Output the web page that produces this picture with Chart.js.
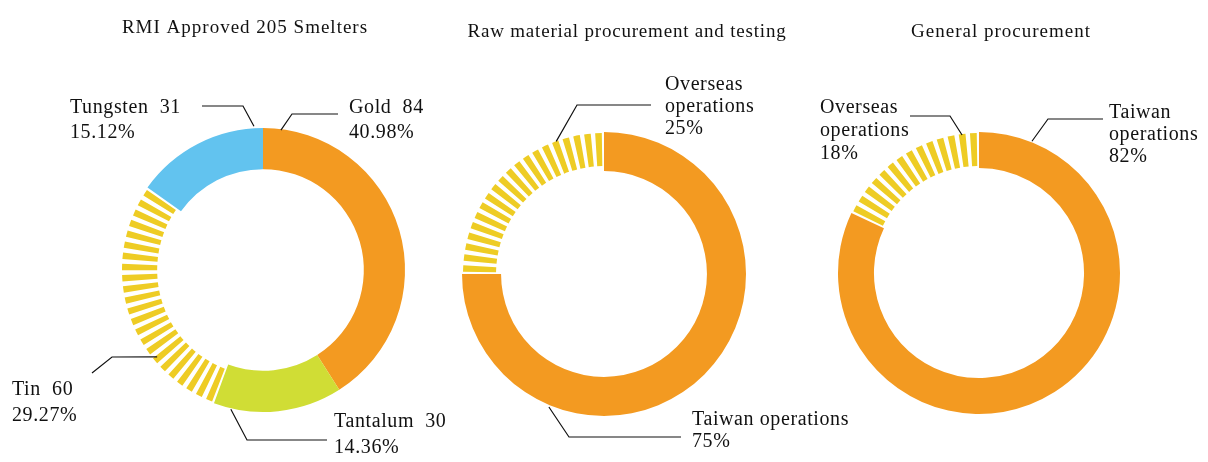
<!DOCTYPE html>
<html>
<head>
<meta charset="utf-8">
<script src="https://cdn.jsdelivr.net/npm/chart.js@4.4.1/dist/chart.umd.min.js"></script>
<style>
  body { margin: 0; background: #fff; }
  #wrap { position: relative; width: 1208px; height: 462px; }
  #wrap canvas { position: absolute; left: 0; top: 0; }
</style>
</head>
<body>
<div id="wrap">
  <canvas id="chart1" width="1208" height="462"></canvas>
  <canvas id="chart2" width="1208" height="462"></canvas>
  <canvas id="chart3" width="1208" height="462"></canvas>
</div>
<script>
// data
const smelterLabels = ['Gold', 'Tantalum', 'Tin', 'Tungsten'];
const smelterCounts = [84, 30, 60, 31];
const smelterShares = ['40.98%', '14.36%', '29.27%', '15.12%'];

const rawLabels = ['Taiwan operations', 'Overseas operations'];
const rawShares = [75, 25];

const generalLabels = ['Taiwan operations', 'Overseas operations'];
const generalShares = [82, 18];

const ORANGE = '#F39A21';
const GREEN = '#D0DD35';
const BLUE = '#62C3EF';
const STRIPE = '#EECC24';
const FONT = '"Liberation Serif", "DejaVu Serif", serif';

// draws the striped slice, the title and the leader-line labels
const calloutPlugin = {
  id: 'callouts',
  afterDatasetsDraw(chart, args, opts) {
    const ctx = chart.ctx;
    const arcs = chart.getDatasetMeta(0).data;

    // radial stripes (small yellow wedges)
    const st = opts.stripes;
    const p = arcs[st.index].getProps(['x', 'y', 'startAngle', 'endAngle', 'innerRadius', 'outerRadius'], true);
    const span = p.endAngle - p.startAngle;
    const n = Math.max(1, Math.round(span / (st.step * Math.PI / 180)));
    const step = span / n;
    const rIn = p.innerRadius + st.inset;
    const rOut = p.outerRadius - 1;
    ctx.save();
    ctx.fillStyle = STRIPE;
    for (let i = 0; i < n; i++) {
      const mid = p.startAngle + (i + 0.5) * step;
      const a0 = mid - step * st.fill / 2;
      const a1 = mid + step * st.fill / 2;
      ctx.beginPath();
      ctx.arc(p.x, p.y, rOut, a0, a1);
      ctx.arc(p.x, p.y, rIn, a1, a0, true);
      ctx.closePath();
      ctx.fill();
    }
    ctx.restore();

    ctx.save();
    ctx.fillStyle = '#111';
    ctx.textBaseline = 'middle';

    // title
    ctx.font = '19px ' + FONT;
    ctx.letterSpacing = opts.titleSpacing;
    ctx.textAlign = 'center';
    ctx.fillText(opts.title, opts.titleX, opts.titleY);

    // callouts
    ctx.textAlign = 'left';
    ctx.font = '20px ' + FONT;
    ctx.letterSpacing = '0.6px';
    ctx.strokeStyle = '#111';
    ctx.lineWidth = 1.2;
    opts.items.forEach((c) => {
      const el = arcs[c.index].getProps(['x', 'y', 'outerRadius'], true);
      const ang = (c.angle - 90) * Math.PI / 180;
      const r = el.outerRadius + c.dr;
      ctx.beginPath();
      ctx.moveTo(el.x + Math.cos(ang) * r, el.y + Math.sin(ang) * r);
      ctx.lineTo(c.elbow[0], c.elbow[1]);
      ctx.lineTo(c.end[0], c.end[1]);
      ctx.stroke();
      c.lines.forEach((t, i) => ctx.fillText(t, c.textX, c.textY[i]));
    });
    ctx.restore();
  }
};

function padFor(cx, cy, r) {
  return { left: cx - r, right: 1208 - cx - r, top: cy - r, bottom: 462 - cy - r };
}

function makeDoughnut(id, labels, values, colors, cutout, padding, plugOpts) {
  return new Chart(document.getElementById(id), {
    type: 'doughnut',
    data: {
      labels: labels,
      datasets: [{
        data: values,
        backgroundColor: colors,
        borderWidth: 0
      }]
    },
    options: {
      responsive: false,
      animation: false,
      cutout: cutout,
      layout: { padding: padding },
      events: [],
      plugins: {
        legend: { display: false },
        tooltip: { enabled: false },
        callouts: plugOpts
      }
    },
    plugins: [calloutPlugin]
  });
}

const words = (s) => s.split(' ');

makeDoughnut('chart1', smelterLabels, smelterCounts,
  [ORANGE, GREEN, 'rgba(0,0,0,0)', BLUE], '71%', padFor(263, 270, 142), {
    title: 'RMI Approved 205 Smelters', titleX: 245, titleY: 28, titleSpacing: '1px',
    stripes: { index: 2, step: 4.5, fill: 0.58, inset: 5 },
    items: [
      { index: 0, angle: 7.3, dr: -1, elbow: [292, 114], end: [338, 114],
        lines: [smelterLabels[0] + '  ' + smelterCounts[0], smelterShares[0]], textX: 349, textY: [108, 133] },
      { index: 1, angle: 193, dr: 1, elbow: [247, 440], end: [327, 440],
        lines: [smelterLabels[1] + '  ' + smelterCounts[1], smelterShares[1]], textX: 334, textY: [422, 448] },
      { index: 2, angle: 230.6, dr: -5, elbow: [112, 357], end: [92, 373],
        lines: [smelterLabels[2] + '  ' + smelterCounts[2], smelterShares[2]], textX: 12, textY: [390, 416] },
      { index: 3, angle: 356.4, dr: 2, elbow: [243, 106], end: [202, 106],
        lines: [smelterLabels[3] + '  ' + smelterCounts[3], smelterShares[3]], textX: 70, textY: [108, 133] }
    ]
  });

makeDoughnut('chart2', rawLabels, rawShares,
  [ORANGE, 'rgba(0,0,0,0)'], '72.5%', padFor(604, 274, 142), {
    title: 'Raw material procurement and testing', titleX: 627, titleY: 32, titleSpacing: '0.8px',
    stripes: { index: 1, step: 4.5, fill: 0.6, inset: 5 },
    items: [
      { index: 0, angle: 202.5, dr: 2, elbow: [569, 437], end: [681, 437],
        lines: [rawLabels[0], rawShares[0] + '%'], textX: 692, textY: [420, 442] },
      { index: 1, angle: 340.2, dr: -1, elbow: [577, 105], end: [651, 105],
        lines: words(rawLabels[1]).concat(rawShares[1] + '%'), textX: 665, textY: [85, 107, 129] }
    ]
  });

makeDoughnut('chart3', generalLabels, generalShares,
  [ORANGE, 'rgba(0,0,0,0)'], '74.5%', padFor(979, 273, 141), {
    title: 'General procurement', titleX: 1001, titleY: 32, titleSpacing: '1px',
    stripes: { index: 1, step: 4.5, fill: 0.6, inset: 2 },
    items: [
      { index: 0, angle: 21.9, dr: 1, elbow: [1048, 119], end: [1103, 119],
        lines: words(generalLabels[0]).concat(generalShares[0] + '%'), textX: 1109, textY: [113, 135, 157] },
      { index: 1, angle: 353, dr: -2, elbow: [950, 116], end: [910, 116],
        lines: words(generalLabels[1]).concat(generalShares[1] + '%'), textX: 820, textY: [108, 131, 154] }
    ]
  });
</script>
</body>
</html>
